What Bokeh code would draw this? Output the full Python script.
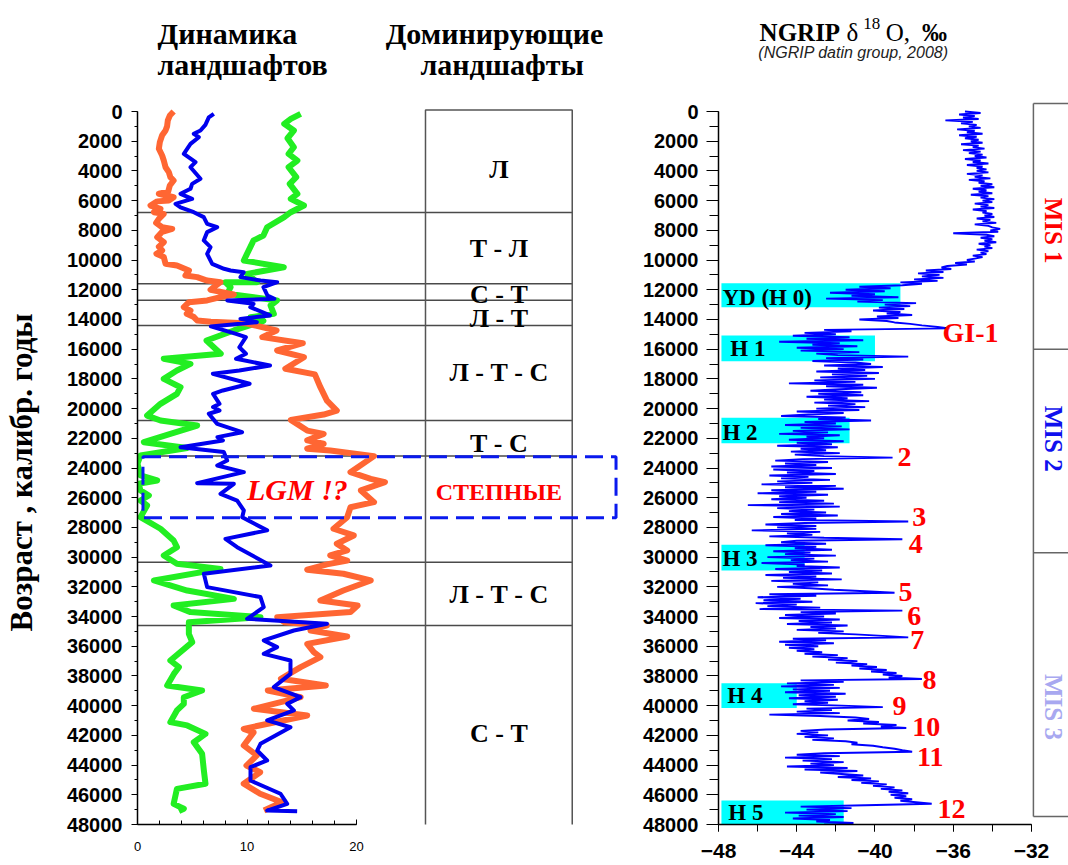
import numpy as np
from bokeh.plotting import figure
from bokeh.models import Range1d, SingleIntervalTicker
from bokeh.layouts import row
from bokeh.core.properties import value
from bokeh.embed import file_html
from bokeh.resources import INLINE

# ---------------- data: landscape dynamics (left panel) ----------------
orange_age = [0, 270, 600, 1000, 1280, 1600, 2060, 2510, 2960, 3300, 3750, 4080, 4420, 4645, 4980,
              5400, 5540, 5770, 5990, 6050, 6330, 6550, 6780, 6890, 7226, 7500, 7790, 7900, 8100,
              8460, 8800, 9100, 9350, 9580, 9800, 10255, 10370, 10700, 11040, 11150, 11380, 11490,
              11826, 12000, 12160, 12320, 12500, 12720, 12835, 13170, 13400, 13620, 13840, 14070,
              14150, 14250, 14740, 15190, 15600, 16090, 16540, 17320, 17700, 18560, 19460, 20130,
              20400, 20760, 21480, 21700, 22140, 22370, 22700, 22820, 23200, 24280, 24730, 24950,
              25510, 26300, 26640, 27310, 28090, 28540, 29100, 29550, 29890, 30230, 30490, 30850,
              31120, 31570, 32250, 32920, 33260, 33700, 34040, 34380, 34600, 34940, 35340, 35840,
              36400, 36730, 37410, 38190, 38640, 38980, 39430, 40210, 40660, 41560, 41800, 42680,
              43350, 44030, 44480, 45260, 45930, 46500, 47060]
orange_val = [3.3, 2.95, 2.77, 2.7, 2.56, 2.25, 2.04, 1.95, 2.25, 2.4, 2.56, 2.86, 3.0, 3.3, 2.95,
              2.8, 1.95, 3.3, 2.86, 1.8, 1.19, 2.1, 1.5, 2.4, 1.95, 1.7, 2.25, 3.17, 2.25,
              1.8, 2.4, 1.95, 2.25, 1.73, 2.4, 2.56, 3.6, 4.7, 4.38, 5.45, 6.36, 7.58,
              6.97, 6.67, 7.73, 8.8, 7.58, 6.36, 4.7, 4.23, 4.84, 4.5, 5.15, 5.45,
              6.7, 9.8, 12.7, 11.4, 15.1, 12.75, 15.2, 13.5, 16.2, 16.7, 17.3, 18.2,
              17.0, 14.0, 15.5, 17.0, 15.5, 17.0, 15.5, 17.6, 21.6, 19.45, 21.3, 22.6,
              20.4, 21.6, 19.45, 19.15, 17.9, 19.75, 18.2, 19.15, 17.6, 19.15, 17.3, 15.5,
              18.8, 21.3, 18.8, 16.7, 20.1, 19.45, 12.76, 13.4, 17.3, 15.8, 19.15, 15.5,
              16.1, 16.7, 14.9, 13.1, 17.2, 11.9, 14.9, 10.63, 15.5, 9.7, 10.6, 9.7,
              10.9, 9.95, 11.2, 9.7, 11.2, 13.2, 11.55]

blue_age = [157, 400, 900, 1280, 1500, 1730, 2180, 2850, 3410, 3750, 4530, 4870, 5200, 5540, 5880,
            6216, 6450, 6780, 7110, 7560, 7790, 8120, 8680, 9130, 9580, 10255, 10590, 10700, 10815,
            11150, 11380, 11490, 11830, 12390, 12610, 12720, 12950, 13170, 13730, 13960, 14180,
            14470, 14970, 15190, 15870, 16310, 16650, 17100, 17440, 17660, 18330, 18780, 19010,
            19680, 19900, 20130, 20350, 21030, 21590, 21920, 22150, 22600, 22930, 23500, 23830,
            24280, 25020, 25065, 25740, 26190, 26860, 27310, 28200, 28770, 29330, 30560, 31125,
            32020, 32690, 33370, 34150, 34490, 34940, 35610, 36060, 36510, 36960, 37860, 38750,
            39430, 39880, 40320, 40990, 41450, 42570, 43020, 43690, 44140, 45040, 45930, 46610,
            47060, 47100]
blue_val = [6.97, 6.51, 6.2, 5.75, 5.14, 5.6, 4.84, 4.23, 5.3, 4.84, 5.75, 4.99, 4.84, 3.93, 4.99,
            3.47, 3.93, 5.14, 6.05, 6.36, 7.28, 6.36, 6.05, 6.67, 6.36, 6.82, 7.9, 8.5, 9.7,
            9.4, 11.24, 12.76, 11.5, 11.87, 12.5, 8.2, 10.6, 10.3, 12.1, 9.4, 10.9,
            6.7, 9.0, 9.9, 9.3, 9.9, 9.0, 12.1, 9.3, 6.88, 10.24, 7.8, 6.9,
            7.49, 6.9, 7.49, 6.51, 7.28, 9.55, 7.3, 7.8, 3.93, 7.88, 8.19, 7.28,
            9.71, 5.45, 8.8, 7.58, 9.1, 9.71, 9.56, 11.84, 8.03, 9.1, 12.14, 6.06,
            6.36, 11.23, 11.53, 10.01, 17.3, 14.28, 11.53, 12.75, 11.53, 13.97, 13.97, 12.45,
            14.88, 13.67, 14.28, 11.84, 13.97, 11.23, 10.93, 11.84, 10.32, 10.32, 13.06, 13.67,
            11.84, 14.58]

green_age = [157, 500, 830, 1280, 1800, 2400, 2850, 3300, 3750, 4420, 4870, 5540, 5880, 6330, 6780,
             7110, 7790, 8350, 8680, 9130, 9580, 10030, 10480, 10930, 11490, 11500, 11830, 12270,
             12720, 13060, 13620, 13850, 14100, 14740, 15420, 16310, 16650, 16990, 17440, 18000,
             18560, 19010, 19680, 20470, 20800, 21140, 21700, 22260, 22650, 23160, 23720, 24500,
             24840, 25065, 25510, 25850, 26190, 26520, 27310, 28090, 28880, 29330, 29890, 30450,
             30790, 31570, 32250, 32810, 33260, 33700, 34040, 34380, 35160, 35720, 36960, 37410,
             37860, 38640, 38980, 39430, 39880, 40320, 41110, 41330, 41900, 42460, 43240, 44360,
             45260, 45600, 46610, 46940, 47100]
green_val = [14.9, 14.0, 13.4, 14.28, 13.7, 14.28, 13.8, 14.6, 13.8, 14.5, 13.9, 14.6, 14.0, 15.2, 14.0,
             13.4, 11.84, 11.5, 10.6, 10.3, 10.0, 9.71, 13.36, 10.0, 10.93, 8.04, 8.5, 8.2,
             12.75, 12.15, 12.45, 10.32, 11.5, 8.8, 6.3, 7.6, 2.4, 4.84, 3.6, 2.4,
             3.93, 3.6, 2.1, 0.88, 2.1, 5.45, 3.0, 0.58, 4.54, 0.27, 0.0, 0.27,
             1.8, 0.1, 0.27, 1.04, 0.27, 0.88, 0.27, 2.1, 3.3, 3.6, 2.4, 3.6,
             7.58, 1.5, 4.54, 8.8, 3.3, 4.84, 11.23, 4.69, 4.69, 5.0, 3.0, 3.78,
             3.32, 2.71, 5.9, 4.23, 4.23, 3.6, 3.0, 4.54, 6.21, 5.14, 5.9, 6.06,
             6.21, 3.6, 3.3, 4.23, 3.78]

# boundaries between landscape zones (age, years)
zone_bounds = [6800, 11600, 12700, 14400, 20800, 23200, 30350, 34600]
zone_labels = ["Л", "Т - Л", "С - Т", "Л - Т", "Л - Т - С", "Т - С", "Л - Т - С", "С - Т"]
zone_label_age = [3880, 9215, 12320, 13935, 17540, 22350, 32535, 41850]
lgm_top, lgm_bottom = 23250, 27350

# ---------------- data: NGRIP d18O (right panel) ----------------
ngrip_age = list(range(0, 48001, 100))
ngrip_d18o = [
    -35.4, -34.6, -35.7, -34.9, -35.5, -34.7, -36.4, -35.0, -35.6, -34.8,
    -35.2, -34.6, -35.8, -34.9, -35.3, -34.5, -35.7, -34.8, -35.4, -34.7,
    -35.1, -34.5, -35.6, -34.7, -35.0, -34.4, -35.5, -34.6, -35.2, -34.5,
    -34.9, -34.3, -35.4, -34.6, -35.0, -34.2, -35.3, -34.5, -34.8, -34.3,
    -34.8, -34.2, -35.3, -34.5, -34.9, -34.1, -35.2, -34.4, -34.7, -34.0,
    -34.6, -33.9, -35.0, -34.3, -34.7, -34.0, -35.1, -34.2, -34.6, -33.9,
    -34.5, -34.0, -34.9, -34.2, -34.6, -33.9, -35.0, -34.3, -34.5, -34.0,
    -34.4, -33.9, -34.8, -34.1, -34.5, -33.8, -34.9, -34.2, -34.0, -33.6,
    -34.1, -33.7, -36.0, -34.3, -33.9, -34.6, -34.0, -34.4, -33.8, -34.7,
    -34.1, -34.4, -34.0, -34.8, -34.2, -34.6, -34.3, -35.0, -34.5, -34.9,
    -35.3, -34.9, -35.9, -35.3, -36.3, -36.6, -36.1, -37.4, -36.5, -37.8,
    -36.7, -37.6, -36.5, -38.0, -36.8, -38.7, -37.6, -38.6, -40.8, -39.2,
    -41.5, -39.5, -42.3, -40.0, -41.2, -38.8, -42.5, -39.6, -40.9, -37.9,
    -39.5, -38.2, -39.8, -38.5, -40.1, -38.7, -39.4, -38.1, -39.9, -38.8,
    -40.8, -39.4, -39.0, -38.2, -37.6, -36.8, -36.2, -42.6, -41.2, -43.6,
    -42.0, -44.2, -41.3, -43.5, -40.6, -44.9, -41.8, -43.2, -40.9, -44.0,
    -41.6, -43.8, -40.8, -43.0, -41.9, -38.3, -42.5, -40.6, -43.2, -41.0,
    -40.2, -42.6, -39.6, -41.9, -40.5, -43.0, -39.8, -42.2, -40.4, -42.8,
    -40.0, -43.1, -41.0, -44.4, -40.6, -42.5, -39.9, -41.8, -43.3, -40.7,
    -42.9, -40.6, -43.5, -41.4, -42.6, -40.3, -43.1, -41.0, -42.4, -40.5,
    -43.0, -40.8, -44.0, -41.6, -43.4, -44.8, -41.5, -42.9, -40.2, -43.6,
    -42.0, -44.6, -41.7, -43.8, -41.3, -44.2, -42.4, -44.9, -41.8, -43.5,
    -42.6, -44.4, -41.6, -44.0, -42.2, -45.0, -41.9, -43.8, -42.5, -44.3,
    -41.8, -44.1, -42.6, -39.1, -43.7, -45.1, -42.4, -44.6, -43.0, -45.3,
    -42.2, -45.2, -43.1, -44.5, -42.0, -45.4, -43.4, -44.8, -42.3, -45.0,
    -43.2, -45.8, -42.0, -44.6, -41.6, -45.3, -43.0, -46.0, -42.4, -44.9,
    -43.5, -45.3, -42.6, -44.9, -42.1, -46.5, -41.8, -45.0, -43.1, -44.4,
    -42.5, -44.8, -41.9, -45.2, -43.0, -44.1, -38.3, -43.6, -45.6, -43.0,
    -45.0, -43.0, -46.3, -42.8, -44.5, -43.2, -45.4, -42.6, -38.6, -44.0,
    -44.8, -42.5, -45.6, -43.0, -44.1, -42.2, -45.2, -43.3, -44.6, -42.0,
    -45.5, -43.1, -44.3, -42.4, -45.8, -43.6, -44.0, -41.8, -45.1, -42.7,
    -44.4, -42.2, -45.6, -43.0, -44.7, -41.7, -45.3, -42.9, -44.2, -42.4,
    -45.0, -43.3, -42.1, -40.5, -39.0, -45.4, -43.0, -46.0, -43.8, -45.7,
    -43.2, -46.1, -44.0, -45.5, -42.8, -45.9, -38.6, -43.8, -42.0, -44.6,
    -42.6, -44.9, -41.8, -43.9, -42.2, -44.5, -41.4, -43.3, -42.0, -44.0,
    -41.6, -42.9, -41.0, -39.6, -38.3, -44.2, -42.5, -44.9, -42.1, -44.6,
    -42.9, -44.4, -43.1, -44.0, -42.7, -43.6, -41.9, -43.2, -41.4, -42.4,
    -40.9, -42.0, -40.4, -41.2, -39.9, -40.8, -39.4, -40.2, -38.9, -39.6,
    -38.6, -39.3, -37.6, -43.8, -41.6, -44.5, -42.1, -44.8, -41.8, -44.2,
    -42.3, -44.6, -41.5, -43.9, -42.0, -44.4, -41.9, -43.6, -42.4, -44.2,
    -41.7, -39.6, -43.5, -42.2, -44.0, -41.8, -45.4, -42.8, -41.0, -40.3,
    -41.4, -39.8, -40.6, -38.9, -39.7, -38.4, -42.5, -43.8, -42.9, -44.0,
    -42.4, -43.6, -42.1, -43.2, -41.5, -40.9, -41.2, -40.1, -39.6, -39.0,
    -38.6, -38.1, -42.6, -44.0, -41.8, -44.6, -42.2, -43.7, -41.6, -43.3,
    -42.1, -44.5, -41.4, -43.6, -40.9, -42.8, -41.7, -40.6, -41.9, -40.2,
    -41.2, -39.8, -40.7, -39.4, -40.1, -39.0, -39.7, -38.6, -39.3, -38.3,
    -39.2, -38.4, -39.0, -38.1, -38.7, -37.9, -37.1, -40.5, -43.8, -41.2,
    -43.5, -41.4, -44.6, -42.0, -43.9, -41.6, -44.2, -42.3, -43.0, -41.1,
    -42.6]

# Heinrich events (cyan bands)
h_names = ["YD (H 0)", "H 1", "H 2", "H 3", "H 4", "H 5"]
h_top = [11560, 15080, 20620, 29170, 38490, 46380]
h_bottom = [13170, 16810, 22330, 30900, 40150, 48000]
h_right = [-38.7, -40.0, -41.3, -43.6, -44.0, -41.6]
h_label_x = [-47.8, -47.4, -47.8, -47.8, -47.55, -47.5]
h_label_age = [12520, 15950, 21590, 30070, 39310, 47170]

# Dansgaard-Oeschger interstadials
gi_names = ["GI-1", "2", "3", "4", "5", "6", "7", "8", "9", "10", "11", "12"]
gi_x = [-36.55, -38.85, -38.1, -38.27, -38.8, -38.35, -38.2, -37.57, -39.1, -38.1, -37.85, -36.8]
gi_age = [14860, 23270, 27310, 29100, 32360, 33930, 35610, 38300, 39990, 41450, 43470, 46950]

# marine isotope stages
mis_names = ["MIS 1", "MIS 2", "MIS 3"]
mis_colors = ["#FF0000", "#1010EE", "#A8A8F0"]
mis_bounds = [-540, 16000, 29700, 47460]
mis_label_age = [8020, 22030, 40090]

SERIF = "Liberation Serif"
SANS = "Liberation Sans"
H = 865
Y_RANGE = (48000, -7473)   # frame covers the full height; y = 0 lies 111 px below the top


def bare(p):
    p.outline_line_color = None
    p.grid.visible = False
    p.background_fill_color = "white"
    p.border_fill_color = "white"


# ---------------- axis title strip ----------------
p0 = figure(width=40, height=H, x_range=Range1d(0, 40), y_range=Range1d(*Y_RANGE),
            output_backend="svg", toolbar_location=None, x_axis_type=None, y_axis_type=None,
            min_border_left=0, min_border_right=0, min_border_top=0, min_border_bottom=41)
bare(p0)
p0.text(x=[21], y=[24300], text=["Возраст , калибр. годы"], angle=np.pi / 2,
        text_font=value(SERIF), text_font_style="bold", text_font_size="31px",
        text_align="center", text_baseline="middle", text_color="black")

# ---------------- left figure ----------------
p1 = figure(width=589, height=H, x_range=Range1d(0, 44.93), y_range=Range1d(*Y_RANGE),
            output_backend="svg", toolbar_location=None,
            min_border_left=97, min_border_right=0, min_border_top=0, min_border_bottom=41)
bare(p1)

p1.segment(x0=[0] * len(zone_bounds), x1=[39.7] * len(zone_bounds), y0=zone_bounds, y1=zone_bounds,
           line_color="#4a4a4a", line_width=1.5)
p1.quad(left=[26.3], right=[39.7], top=[-100], bottom=[48120], fill_color=None,
        line_color="#555555", line_width=1.5)

p1.line(green_val, green_age, line_color="#22EE22", line_width=6, line_join="round")
p1.line(orange_val, orange_age, line_color="#FF6633", line_width=6, line_join="round")
p1.line(blue_val, blue_age, line_color="#0000EE", line_width=4, line_join="round")

p1.quad(left=[0.5], right=[43.7], top=[lgm_top], bottom=[lgm_bottom], fill_color=None,
        line_color="#0A1AEE", line_width=3, line_dash="18 8")

p1.text(x=[33.0] * len(zone_labels), y=zone_label_age, text=zone_labels,
        text_font=value(SERIF), text_font_style="bold", text_font_size="26px",
        text_align="center", text_baseline="middle", text_color="black")
p1.text(x=[33.0], y=[25615], text=["СТЕПНЫЕ"], text_font=value(SERIF), text_font_style="bold",
        text_font_size="24px", text_align="center", text_baseline="middle", text_color="#FF0000")
p1.text(x=[10.0], y=[25450], text=["LGM !?"], text_font=value(SERIF), text_font_style="bold italic",
        text_font_size="30px", text_align="left", text_baseline="middle", text_color="#FF0000")

# column headers
p1.text(x=[1.83, 1.83], y=[-5250, -3164], text=["Динамика", "ландшафтов"],
        text_font=value(SERIF), text_font_style="bold", text_font_size="30px",
        text_align="left", text_baseline="middle", text_color="black")
p1.text(x=[32.6, 33.3], y=[-5250, -3164], text=["Доминирующие", "ландшафты"],
        text_font=value(SERIF), text_font_style="bold", text_font_size="30px",
        text_align="center", text_baseline="middle", text_color="black")

ya = p1.yaxis[0]
ya.ticker = SingleIntervalTicker(interval=2000, num_minor_ticks=2)
ya.bounds = (0, 48000)
ya.major_label_text_font = SANS
ya.major_label_text_font_style = "bold"
ya.major_label_text_font_size = "20px"
ya.major_label_text_color = "black"
ya.major_tick_out = 6
ya.major_tick_in = 0
ya.minor_tick_out = 3
ya.minor_tick_in = 0
ya.major_label_standoff = 9
ya.axis_line_width = 1.5
ya.axis_line_color = "black"

xa = p1.xaxis[0]
xa.ticker = SingleIntervalTicker(interval=10, num_minor_ticks=5)
xa.bounds = (0, 20)
xa.major_label_text_font = SANS
xa.major_label_text_font_size = "13px"
xa.major_label_text_color = "black"
xa.major_tick_out = 0
xa.major_tick_in = 5
xa.minor_tick_out = 0
xa.minor_tick_in = 4
xa.major_label_standoff = 17
xa.axis_line_width = 1.5
xa.axis_line_color = "black"

# ---------------- right figure ----------------
p2 = figure(width=439, height=H, x_range=Range1d(-48, -48 + 350 / 19.56), y_range=Range1d(*Y_RANGE),
            output_backend="svg", toolbar_location=None,
            min_border_left=89, min_border_right=0, min_border_top=0, min_border_bottom=41)
bare(p2)

p2.quad(left=[-47.85] * len(h_names), right=h_right, top=h_top, bottom=h_bottom,
        fill_color="#00FFFF", line_color=None)
p2.text(x=h_label_x, y=h_label_age, text=h_names, text_font=value(SERIF), text_font_style="bold",
        text_font_size="23px", text_align="left", text_baseline="middle", text_color="black")
p2.line(ngrip_d18o, ngrip_age, line_color="#0000FF", line_width=1.9)
p2.text(x=gi_x, y=gi_age, text=gi_names, text_font=value(SERIF), text_font_style="bold",
        text_font_size="28px", text_align="left", text_baseline="middle", text_color="#FF0000")

p2.segment(x0=[-31.9], x1=[-31.9], y0=[mis_bounds[0]], y1=[mis_bounds[-1]],
           line_color="#666666", line_width=1.5)
p2.segment(x0=[-31.9] * len(mis_bounds), x1=[-29.0] * len(mis_bounds), y0=mis_bounds, y1=mis_bounds,
           line_color="#666666", line_width=1.5)
p2.text(x=[-30.85] * 3, y=mis_label_age, text=mis_names, angle=-np.pi / 2,
        text_font=value(SERIF), text_font_style="bold", text_font_size="25px",
        text_align="center", text_baseline="middle", text_color=mis_colors)

# title
p2.text(x=[-45.9, -41.45, -39.45, -37.6], y=[-5320] * 4, text=["NGRIP", "δ", "O,", "‰"],
        text_font=value(SERIF), text_font_style=["bold", "normal", "normal", "bold"],
        text_font_size="25px", text_align="left", text_baseline="alphabetic", text_color="black")
p2.text(x=[-40.6], y=[-5950], text=["18"], text_font=value(SERIF), text_font_size="17px",
        text_align="left", text_baseline="alphabetic", text_color="black")
p2.text(x=[-41.1], y=[-3980], text=["(NGRIP datin group, 2008)"], text_font=value(SANS),
        text_font_style="italic", text_font_size="16px", text_align="center",
        text_baseline="middle", text_color="#222222")

ya2 = p2.yaxis[0]
ya2.ticker = SingleIntervalTicker(interval=2000, num_minor_ticks=2)
ya2.bounds = (0, 48000)
ya2.major_label_text_font = SANS
ya2.major_label_text_font_style = "bold"
ya2.major_label_text_font_size = "20px"
ya2.major_label_text_color = "black"
ya2.major_tick_out = 12
ya2.major_tick_in = 0
ya2.minor_tick_out = 9
ya2.minor_tick_in = 0
ya2.major_label_standoff = 8
ya2.axis_line_width = 1.5
ya2.axis_line_color = "black"

xa2 = p2.xaxis[0]
xa2.ticker = SingleIntervalTicker(interval=4, num_minor_ticks=2)
xa2.bounds = (-48, -32)
xa2.major_label_text_font = SANS
xa2.major_label_text_font_style = "bold"
xa2.major_label_text_font_size = "21px"
xa2.major_label_text_color = "black"
xa2.major_tick_out = 7
xa2.major_tick_in = 0
xa2.minor_tick_out = 7
xa2.minor_tick_in = 0
xa2.major_label_standoff = 12
xa2.axis_line_width = 1.5
xa2.axis_line_color = "black"

layout = row(p0, p1, p2)
open("out.html", "w").write(file_html(layout, INLINE))
